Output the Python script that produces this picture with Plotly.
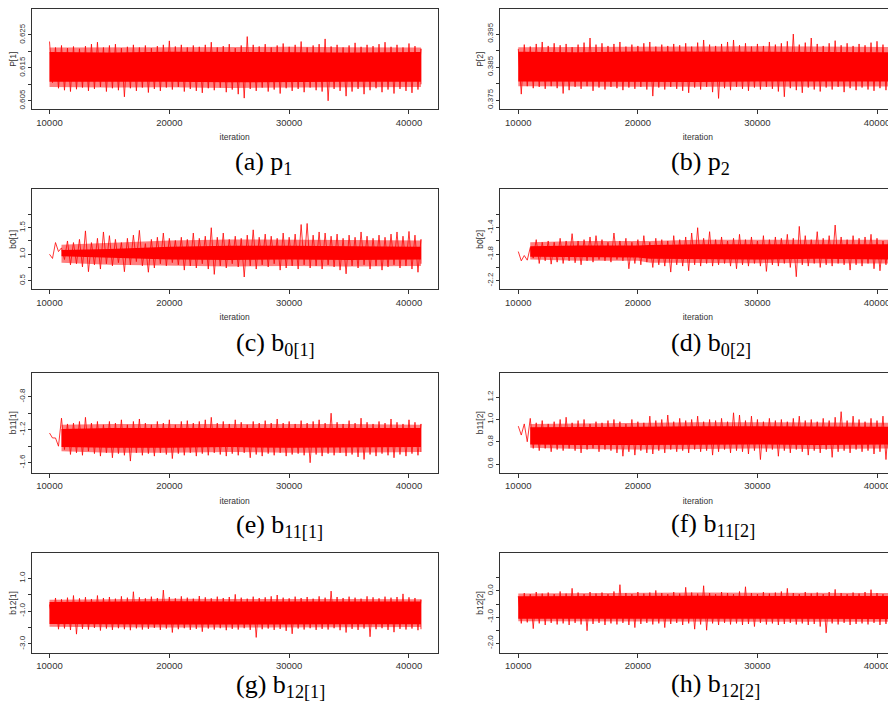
import plotly.graph_objects as go

# The page body adds an 8 px margin, so the figure is drawn 8 px in from the
# window's top-left corner; the figure is sized to end at the window edge.
PAGE_W, PAGE_H = 896, 702
OFF = 8
W, H = PAGE_W - OFF, PAGE_H - OFF

# ---------------- data ----------------
# positions (iteration) of the envelope samples
sample_iter = [10000 + 500 * i for i in range(63)]

# (a) P[1]
a_hi = [0.6230, 0.6212, 0.6218, 0.6210, 0.6215, 0.6208, 0.6216, 0.6222, 0.6228, 0.6212,
        0.6218, 0.6222, 0.6210, 0.6214, 0.6220, 0.6212, 0.6218, 0.6210, 0.6216, 0.6220,
        0.6232, 0.6215, 0.6220, 0.6212, 0.6218, 0.6214, 0.6220, 0.6228, 0.6212, 0.6216,
        0.6222, 0.6210, 0.6218, 0.6245, 0.6220, 0.6215, 0.6222, 0.6212, 0.6218, 0.6224,
        0.6214, 0.6220, 0.6230, 0.6212, 0.6218, 0.6222, 0.6238, 0.6215, 0.6220, 0.6212,
        0.6218, 0.6226, 0.6214, 0.6220, 0.6216, 0.6222, 0.6228, 0.6214, 0.6220, 0.6212,
        0.6224, 0.6216, 0.6208]
a_lo = [0.6105, 0.6088, 0.6082, 0.6078, 0.6085, 0.6090, 0.6080, 0.6086, 0.6092, 0.6078,
        0.6088, 0.6082, 0.6062, 0.6088, 0.6080, 0.6090, 0.6075, 0.6086, 0.6080, 0.6090,
        0.6084, 0.6092, 0.6078, 0.6086, 0.6080, 0.6074, 0.6088, 0.6082, 0.6090, 0.6076,
        0.6084, 0.6070, 0.6058, 0.6086, 0.6080, 0.6090, 0.6078, 0.6084, 0.6072, 0.6088,
        0.6080, 0.6086, 0.6076, 0.6090, 0.6082, 0.6078, 0.6050, 0.6086, 0.6080, 0.6064,
        0.6078, 0.6086, 0.6070, 0.6082, 0.6088, 0.6076, 0.6084, 0.6072, 0.6086, 0.6080,
        0.6074, 0.6084, 0.6100]
a_core_x = [10000, 15000, 20000, 25000, 30000, 35000, 41000]
a_core_top = [0.6198, 0.6197, 0.6199, 0.6198, 0.6199, 0.6197, 0.6198]
a_core_bot = [0.6108, 0.6107, 0.6108, 0.6106, 0.6107, 0.6108, 0.6108]
a_halo_top = [0.6212, 0.6213, 0.6214, 0.6213, 0.6214, 0.6213, 0.6212]
a_halo_bot = [0.6092, 0.6090, 0.6091, 0.6089, 0.6090, 0.6090, 0.6092]

# (b) P[2]
b_hi = [0.3905, 0.3918, 0.3912, 0.3920, 0.3926, 0.3914, 0.3922, 0.3916, 0.3920, 0.3910,
        0.3918, 0.3924, 0.3938, 0.3918, 0.3922, 0.3914, 0.3920, 0.3926, 0.3912, 0.3918,
        0.3914, 0.3922, 0.3926, 0.3912, 0.3918, 0.3914, 0.3920, 0.3916, 0.3922, 0.3912,
        0.3924, 0.3932, 0.3918, 0.3914, 0.3920, 0.3926, 0.3932, 0.3916, 0.3922, 0.3912,
        0.3920, 0.3914, 0.3926, 0.3918, 0.3922, 0.3928, 0.3950, 0.3918, 0.3924, 0.3938,
        0.3920, 0.3914, 0.3922, 0.3930, 0.3916, 0.3922, 0.3914, 0.3920, 0.3916, 0.3924,
        0.3928, 0.3918, 0.3912]
b_lo = [0.3768, 0.3792, 0.3786, 0.3790, 0.3784, 0.3792, 0.3786, 0.3770, 0.3780, 0.3790,
        0.3784, 0.3792, 0.3778, 0.3788, 0.3782, 0.3790, 0.3786, 0.3780, 0.3788, 0.3784,
        0.3790, 0.3782, 0.3762, 0.3788, 0.3782, 0.3790, 0.3784, 0.3778, 0.3772, 0.3788,
        0.3782, 0.3790, 0.3774, 0.3755, 0.3786, 0.3780, 0.3790, 0.3784, 0.3778, 0.3788,
        0.3782, 0.3790, 0.3784, 0.3776, 0.3760, 0.3786, 0.3780, 0.3772, 0.3788, 0.3782,
        0.3776, 0.3788, 0.3782, 0.3790, 0.3774, 0.3786, 0.3780, 0.3788, 0.3782, 0.3778,
        0.3786, 0.3780, 0.3790]
b_core_x = [10000, 15000, 20000, 25000, 30000, 35000, 41000]
b_core_top = [0.3896, 0.3895, 0.3897, 0.3896, 0.3897, 0.3896, 0.3895]
b_core_bot = [0.3806, 0.3807, 0.3806, 0.3805, 0.3806, 0.3807, 0.3806]
b_halo_top = [0.3910, 0.3911, 0.3912, 0.3912, 0.3913, 0.3912, 0.3911]
b_halo_bot = [0.3792, 0.3791, 0.3790, 0.3790, 0.3791, 0.3790, 0.3791]

# (c) b0[1]
c_hi = [1.00, 1.22, 1.12, 1.25, 1.22, 1.28, 1.44, 1.22, 1.30, 1.42,
        1.35, 1.28, 1.22, 1.30, 1.36, 1.45, 1.20, 1.28, 1.32, 1.40,
        1.30, 1.26, 1.32, 1.28, 1.40, 1.30, 1.34, 1.50, 1.32, 1.40,
        1.28, 1.34, 1.30, 1.36, 1.46, 1.32, 1.38, 1.34, 1.30, 1.40,
        1.32, 1.38, 1.56, 1.58, 1.36, 1.42, 1.40, 1.34, 1.38, 1.30,
        1.36, 1.32, 1.42, 1.34, 1.30, 1.36, 1.32, 1.38, 1.42, 1.34,
        1.43, 1.36, 1.28]
c_lo = [0.92, 1.05, 0.90, 0.80, 0.82, 0.76, 0.67, 0.80, 0.72, 0.82,
        0.78, 0.84, 0.67, 0.80, 0.86, 0.78, 0.66, 0.74, 0.82, 0.78,
        0.84, 0.80, 0.70, 0.78, 0.74, 0.82, 0.72, 0.62, 0.78, 0.74,
        0.82, 0.76, 0.57, 0.78, 0.72, 0.80, 0.76, 0.82, 0.70, 0.74,
        0.78, 0.72, 0.80, 0.74, 0.78, 0.72, 0.80, 0.76, 0.70, 0.63,
        0.78, 0.74, 0.80, 0.72, 0.78, 0.70, 0.76, 0.80, 0.74, 0.78,
        0.72, 0.66, 0.82]
c_core_x = [11000, 15000, 20000, 25000, 30000, 35000, 41000]
c_core_top = [1.08, 1.10, 1.14, 1.16, 1.16, 1.15, 1.14]
c_core_bot = [0.96, 0.94, 0.90, 0.89, 0.90, 0.89, 0.90]
c_halo_top = [1.18, 1.22, 1.26, 1.28, 1.28, 1.27, 1.26]
c_halo_bot = [0.84, 0.80, 0.78, 0.77, 0.78, 0.77, 0.78]

# (d) b0[2]
d_hi = [-1.76, -1.82, -1.70, -1.58, -1.62, -1.60, -1.62, -1.56, -1.60, -1.49,
        -1.60, -1.58, -1.54, -1.52, -1.58, -1.62, -1.48, -1.60, -1.56, -1.62,
        -1.58, -1.52, -1.62, -1.56, -1.58, -1.60, -1.52, -1.58, -1.54, -1.48,
        -1.40, -1.56, -1.46, -1.58, -1.54, -1.60, -1.56, -1.50, -1.58, -1.54,
        -1.60, -1.52, -1.58, -1.54, -1.56, -1.50, -1.56, -1.38, -1.52, -1.58,
        -1.46, -1.56, -1.52, -1.36, -1.54, -1.58, -1.52, -1.56, -1.54, -1.50,
        -1.56, -1.60, -1.52]
d_lo = [-1.90, -1.89, -1.86, -1.94, -1.90, -1.95, -1.92, -1.94, -1.90, -1.93,
        -1.96, -1.90, -1.92, -1.88, -1.90, -1.92, -1.88, -1.90, -2.02, -1.94,
        -1.96, -1.92, -2.00, -1.96, -1.98, -2.07, -1.96, -1.98, -2.05, -1.96,
        -1.98, -1.94, -1.98, -1.96, -1.94, -1.98, -2.02, -1.96, -1.98, -1.94,
        -1.98, -2.06, -1.96, -1.98, -1.94, -2.00, -2.14, -1.96, -1.98, -1.94,
        -2.00, -1.96, -1.98, -1.94, -1.96, -2.04, -1.96, -1.98, -1.94, -2.02,
        -2.05, -1.96, -1.98]
d_core_x = [11000, 15000, 20000, 21000, 25000, 30000, 35000, 41000]
d_core_top = [-1.68, -1.67, -1.67, -1.66, -1.65, -1.65, -1.65, -1.65]
d_core_bot = [-1.84, -1.85, -1.85, -1.87, -1.88, -1.88, -1.87, -1.88]
d_halo_top = [-1.62, -1.60, -1.60, -1.60, -1.58, -1.58, -1.58, -1.58]
d_halo_bot = [-1.88, -1.90, -1.90, -1.93, -1.94, -1.94, -1.94, -1.94]

# (e) b11[1]
e_hi = [-1.24, -1.30, -1.06, -1.13, -1.12, -1.10, -1.05, -1.12, -1.10, -1.14,
        -1.10, -1.12, -1.08, -1.14, -1.10, -1.07, -1.12, -1.14, -1.10, -1.12,
        -1.08, -1.14, -1.10, -1.09, -1.12, -1.10, -1.08, -1.05, -1.12, -1.10,
        -1.13, -1.08, -1.11, -1.14, -1.10, -1.12, -1.09, -1.12, -1.07, -1.12,
        -1.10, -1.13, -1.09, -1.12, -1.10, -1.08, -1.12, -1.00, -1.11, -1.13,
        -1.09, -1.12, -1.06, -1.11, -1.13, -1.10, -1.12, -1.07, -1.11, -1.13,
        -1.08, -1.11, -1.13]
e_lo = [-1.30, -1.40, -1.44, -1.50, -1.48, -1.51, -1.46, -1.49, -1.52, -1.48,
        -1.54, -1.49, -1.51, -1.58, -1.48, -1.51, -1.49, -1.52, -1.48, -1.50,
        -1.55, -1.49, -1.51, -1.48, -1.52, -1.49, -1.51, -1.48, -1.50, -1.52,
        -1.49, -1.51, -1.48, -1.54, -1.50, -1.52, -1.49, -1.51, -1.48, -1.52,
        -1.50, -1.49, -1.51, -1.60, -1.50, -1.52, -1.49, -1.51, -1.48, -1.52,
        -1.50, -1.53, -1.56, -1.50, -1.52, -1.49, -1.51, -1.54, -1.50, -1.52,
        -1.49, -1.51, -1.47]
e_core_x = [11000, 15000, 20000, 25000, 30000, 35000, 41000]
e_core_top = [-1.19, -1.18, -1.18, -1.18, -1.18, -1.18, -1.18]
e_core_bot = [-1.41, -1.42, -1.42, -1.41, -1.42, -1.42, -1.41]
e_halo_top = [-1.14, -1.13, -1.13, -1.13, -1.13, -1.13, -1.14]
e_halo_bot = [-1.46, -1.48, -1.48, -1.47, -1.48, -1.48, -1.47]

# (f) b11[2]
f_hi = [0.94, 0.96, 1.01, 0.97, 0.99, 0.96, 0.98, 1.00, 1.02, 0.97,
        0.99, 1.00, 0.96, 0.98, 0.97, 0.99, 1.00, 0.98, 0.96, 1.00,
        0.98, 0.97, 1.03, 0.99, 1.00, 1.04, 0.98, 1.01, 0.99, 1.00,
        1.03, 0.98, 1.00, 0.99, 1.01, 0.98, 1.06, 1.04, 0.99, 1.03,
        1.00, 0.98, 1.01, 0.99, 1.00, 0.98, 1.01, 1.03, 0.99, 1.00,
        0.98, 1.01, 0.99, 1.02, 1.07, 0.99, 1.03, 1.00, 0.98, 1.01,
        0.99, 1.03, 1.00]
f_lo = [0.86, 0.80, 0.74, 0.72, 0.74, 0.71, 0.73, 0.72, 0.74, 0.72,
        0.70, 0.73, 0.74, 0.71, 0.73, 0.72, 0.70, 0.67, 0.71, 0.68,
        0.72, 0.70, 0.69, 0.72, 0.70, 0.73, 0.71, 0.72, 0.70, 0.73,
        0.71, 0.72, 0.68, 0.71, 0.73, 0.70, 0.72, 0.71, 0.69, 0.72,
        0.64, 0.71, 0.73, 0.67, 0.72, 0.70, 0.73, 0.71, 0.68, 0.72,
        0.70, 0.73, 0.66, 0.71, 0.72, 0.70, 0.73, 0.71, 0.72, 0.69,
        0.71, 0.64, 0.70]
f_core_x = [11000, 15000, 20000, 25000, 30000, 35000, 41000]
f_core_top = [0.93, 0.93, 0.935, 0.94, 0.94, 0.94, 0.935]
f_core_bot = [0.775, 0.77, 0.77, 0.77, 0.775, 0.77, 0.775]
f_halo_top = [0.96, 0.965, 0.97, 0.975, 0.975, 0.975, 0.97]
f_halo_bot = [0.745, 0.735, 0.73, 0.735, 0.74, 0.735, 0.74]

# (g) b12[1]
g_hi = [-0.60, -0.20, -0.28, -0.18, -0.05, -0.22, -0.15, -0.26, -0.05, -0.20,
        -0.14, -0.24, -0.10, -0.18, 0.18, -0.16, -0.22, -0.12, -0.20, 0.28,
        -0.14, -0.22, -0.10, -0.18, -0.24, -0.08, -0.16, -0.22, -0.12, -0.20,
        -0.14, 0.02, -0.18, -0.24, -0.12, -0.20, -0.16, -0.10, -0.02, -0.18,
        -0.22, -0.12, -0.20, -0.14, -0.24, -0.10, -0.18, 0.22, -0.14, -0.20,
        -0.12, -0.18, -0.24, -0.10, -0.16, -0.22, -0.12, -0.18, -0.14, 0.05,
        -0.16, -0.20, -0.30]
g_lo = [-1.55, -2.10, -2.05, -2.15, -2.40, -2.08, -2.12, -2.02, -2.18, -2.06,
        -2.14, -2.04, -2.10, -2.16, -2.05, -2.12, -2.08, -2.02, -2.14, -2.06,
        -2.30, -2.10, -2.04, -2.14, -2.08, -2.25, -2.06, -2.12, -2.04, -2.16,
        -2.08, -2.12, -2.04, -2.14, -2.60, -2.10, -2.06, -2.14, -2.08, -2.20,
        -2.38, -2.06, -2.12, -2.04, -2.14, -2.08, -2.12, -2.04, -2.16, -2.30,
        -2.08, -2.14, -2.06, -2.56, -2.10, -2.04, -2.14, -2.28, -2.08, -2.12,
        -2.06, -2.16, -2.10]
g_core_x = [10000, 15000, 20000, 25000, 30000, 35000, 41000]
g_core_top = [-0.45, -0.42, -0.40, -0.42, -0.40, -0.42, -0.42]
g_core_bot = [-1.78, -1.80, -1.82, -1.80, -1.82, -1.80, -1.80]
g_halo_top = [-0.30, -0.26, -0.24, -0.26, -0.24, -0.26, -0.28]
g_halo_bot = [-1.95, -1.98, -2.00, -1.98, -2.00, -1.98, -1.96]

# (h) b12[2]
h_hi = [-0.20, -0.08, -0.12, -0.04, -0.10, -0.06, -0.12, -0.02, -0.10, 0.10,
        -0.06, -0.12, -0.04, -0.10, -0.06, -0.12, -0.02, 0.24, -0.08, -0.12,
        -0.04, -0.10, -0.06, 0.02, -0.08, -0.12, -0.04, -0.10, 0.14, -0.06,
        -0.10, 0.20, -0.08, -0.12, -0.04, -0.08, -0.12, -0.02, 0.16, -0.08,
        -0.12, -0.04, -0.10, -0.06, -0.02, 0.10, -0.08, -0.12, -0.04, -0.10,
        -0.06, -0.12, -0.04, 0.06, -0.08, -0.12, -0.06, -0.10, -0.04, 0.05,
        -0.08, -0.12, -0.06]
h_lo = [-1.24, -1.20, -1.44, -1.24, -1.30, -1.22, -1.28, -1.24, -1.30, -1.22,
        -1.28, -1.52, -1.26, -1.22, -1.30, -1.24, -1.28, -1.22, -1.30, -1.40,
        -1.26, -1.22, -1.28, -1.24, -1.40, -1.26, -1.22, -1.30, -1.24, -1.46,
        -1.28, -1.50, -1.24, -1.30, -1.22, -1.28, -1.24, -1.30, -1.26, -1.36,
        -1.22, -1.28, -1.24, -1.30, -1.26, -1.22, -1.28, -1.24, -1.30, -1.26,
        -1.36, -1.60, -1.24, -1.28, -1.22, -1.30, -1.26, -1.24, -1.28, -1.22,
        -1.30, -1.26, -1.36]
h_core_x = [10000, 15000, 20000, 25000, 30000, 35000, 41000]
h_core_top = [-0.20, -0.19, -0.20, -0.18, -0.19, -0.20, -0.19]
h_core_bot = [-1.06, -1.07, -1.07, -1.06, -1.07, -1.07, -1.07]
h_halo_top = [-0.10, -0.08, -0.08, -0.06, -0.07, -0.08, -0.08]
h_halo_bot = [-1.16, -1.18, -1.18, -1.17, -1.18, -1.18, -1.18]

# axis labels / ticks
x_ticks = [10000, 20000, 30000, 40000]
y_titles = ["P[1]", "P[2]", "b0[1]", "b0[2]", "b11[1]", "b11[2]", "b12[1]", "b12[2]"]
y_major = [
    [0.605, 0.615, 0.625],
    [0.375, 0.385, 0.395],
    [0.5, 1.0, 1.5],
    [-2.2, -1.8, -1.4],
    [-1.6, -1.2, -0.8],
    [0.6, 0.8, 1.0, 1.2],
    [-3.0, -1.0, 1.0],
    [-2.0, -1.0, 0.0],
]
y_major_text = [
    ["0.605", "0.615", "0.625"],
    ["0.375", "0.385", "0.395"],
    ["0.5", "1.0", "1.5"],
    ["-2.2", "-1.8", "-1.4"],
    ["-1.6", "-1.2", "-0.8"],
    ["0.6", "0.8", "1.0", "1.2"],
    ["-3.0", "-1.0", "1.0"],
    ["-2.0", "-1.0", "0.0"],
]
y_minor = [
    [0.610, 0.620],
    [0.380, 0.390],
    [0.75, 1.25, 1.75],
    [-2.0, -1.6, -1.2],
    [-1.4, -1.0],
    [],
    [-2.0, 0.0],
    [-1.5, -0.5, 0.5],
]
x_titles = ["iteration", "iteration", "iteration", "iteration",
            "iteration", "iteration", None, None]
captions = ["(a) p<sub>1</sub>", "(b) p<sub>2</sub>",
            "(c) b<sub>0[1]</sub>", "(d) b<sub>0[2]</sub>",
            "(e) b<sub>11[1]</sub>", "(f) b<sub>11[2]</sub>",
            "(g) b<sub>12[1]</sub>", "(h) b<sub>12[2]</sub>"]

series = [
    (a_hi, a_lo, a_core_x, a_core_top, a_core_bot, a_halo_top, a_halo_bot),
    (b_hi, b_lo, b_core_x, b_core_top, b_core_bot, b_halo_top, b_halo_bot),
    (c_hi, c_lo, c_core_x, c_core_top, c_core_bot, c_halo_top, c_halo_bot),
    (d_hi, d_lo, d_core_x, d_core_top, d_core_bot, d_halo_top, d_halo_bot),
    (e_hi, e_lo, e_core_x, e_core_top, e_core_bot, e_halo_top, e_halo_bot),
    (f_hi, f_lo, f_core_x, f_core_top, f_core_bot, f_halo_top, f_halo_bot),
    (g_hi, g_lo, g_core_x, g_core_top, g_core_bot, g_halo_top, g_halo_bot),
    (h_hi, h_lo, h_core_x, h_core_top, h_core_bot, h_halo_top, h_halo_bot),
]

# ---------------- layout geometry (window pixels) ----------------
y_ranges = [[0.6024, 0.6328], [0.3722, 0.4025], [0.338, 2.225], [-2.33, -0.82],
            [-1.721, -0.509], [0.522, 1.42], [-3.53, 2.52], [-2.36, 1.44]]
x_range_left = [8514, 42396]
x_range_right = [8445, 41589]
col_px = [(31.7, 437.7), (499.7, 896.0)]
row_px = [(9.3, 109.3), (189.3, 289.3), (372.7, 472.7), (553.3, 652.7)]
caption_px = [(233, 163), (669, 163), (234, 344), (669, 344),
              (234, 526), (669, 525), (234, 686), (669, 685)]


def fx(px):
    return min(1.0, max(0.0, (px - OFF) / W))


def fy(py):
    return min(1.0, max(0.0, 1 - (py - OFF) / H))


RED = "#ff0000"
HALO = "rgba(255,0,0,0.5)"
AX = "#333333"
SANS = "Liberation Sans, Arial, sans-serif"

fig = go.Figure()
layout = dict(width=W, height=H, margin=dict(l=0, r=0, t=0, b=0),
              paper_bgcolor="white", plot_bgcolor="white", showlegend=False,
              annotations=[])

for k, (hi, lo, cx, ctop, cbot, htop, hbot) in enumerate(series):
    n = k + 1
    xa = "x" if n == 1 else f"x{n}"
    ya = "y" if n == 1 else f"y{n}"
    col = k % 2
    row = k // 2
    # fringe of the trace band
    fig.add_trace(go.Scatter(
        x=cx + cx[::-1], y=htop + hbot[::-1], fill="toself", fillcolor=HALO,
        mode="lines", line=dict(width=0, color=HALO), xaxis=xa, yaxis=ya,
        hoverinfo="skip"))
    # dense core of the trace
    fig.add_trace(go.Scatter(
        x=cx + cx[::-1], y=ctop + cbot[::-1], fill="toself", fillcolor=RED,
        mode="lines", line=dict(width=0, color=RED), xaxis=xa, yaxis=ya,
        hoverinfo="skip"))
    # spiky envelope of the trace
    zx, zy = [], []
    last = len(sample_iter) - 1
    for i, it in enumerate(sample_iter):
        zx += [it, it + (250 if i < last else 0)]
        zy += [hi[i], lo[i]]
    fig.add_trace(go.Scatter(x=zx, y=zy, mode="lines",
                             line=dict(color=RED, width=0.8), xaxis=xa, yaxis=ya))

    x0, x1 = col_px[col]
    top, bot = row_px[row]
    xkey = "xaxis" if n == 1 else f"xaxis{n}"
    ykey = "yaxis" if n == 1 else f"yaxis{n}"
    xaxis = dict(
        domain=[fx(x0), fx(x1)], anchor=ya,
        range=x_range_left if col == 0 else x_range_right,
        tickvals=x_ticks, ticktext=[str(v) for v in x_ticks],
        ticks="outside", ticklen=4, tickcolor=AX, tickwidth=1,
        showline=True, linecolor=AX, linewidth=1, mirror=True,
        showgrid=False, zeroline=False,
        tickfont=dict(family=SANS, size=9.5, color=AX),
    )
    if x_titles[k]:
        xaxis["title"] = dict(text=x_titles[k],
                              font=dict(family=SANS, size=8.5, color=AX),
                              standoff=7)
    layout[xkey] = xaxis
    layout[ykey] = dict(
        domain=[fy(bot), fy(top)], anchor=xa,
        range=y_ranges[k],
        tickmode="array", tickvals=y_major[k], ticktext=y_major_text[k],
        tickangle=-90,
        ticks="outside", ticklen=3, tickcolor=AX, tickwidth=1,
        minor=dict(tickmode="array", tickvals=y_minor[k], ticks="outside",
                   ticklen=3, tickcolor=AX, tickwidth=1, showgrid=False),
        showline=True, linecolor=AX, linewidth=1, mirror=(col == 0),
        showgrid=False, zeroline=False,
        tickfont=dict(family=SANS, size=8, color=AX),
        title=dict(text=y_titles[k],
                   font=dict(family=SANS, size=8.5, color=AX),
                   standoff=0),
    )
    cxp, cyp = caption_px[k]
    layout["annotations"].append(dict(
        text=captions[k], x=fx(cxp), y=fy(cyp), xref="paper", yref="paper",
        xanchor="left", yanchor="middle", showarrow=False,
        font=dict(family="Liberation Serif, Times New Roman, serif", size=26,
                  color="black")))

fig.update_layout(**layout)
fig.write_html("out.html")
